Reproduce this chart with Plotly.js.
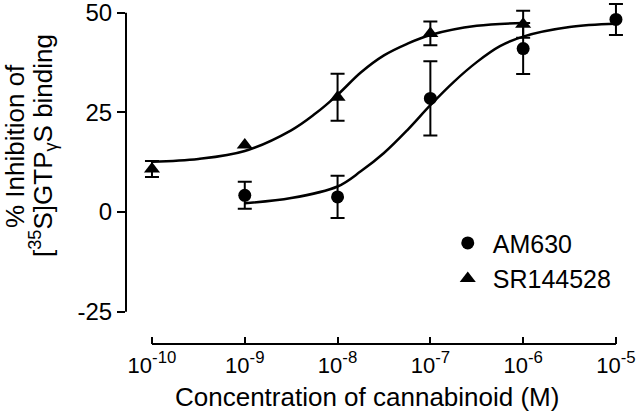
<!DOCTYPE html>
<html>
<head>
<meta charset="utf-8">
<script src="https://cdn.plot.ly/plotly-3.0.1.min.js"></script>
<style>html,body{margin:0;padding:0;background:#fff;}#chart{width:640px;height:415px;}</style>
</head>
<body>
<div id="chart"></div>
<script>
// log10 of concentration (M)
const tickExponents = [-10, -9, -8, -7, -6, -5];
const yTickValues = [-25, 0, 25, 50];
const yTickLabels = ["-25", "0", "25", "50"];

// AM630 measured points
const amLogConc = [-9, -8, -7, -6, -5];
const amMean = [4.2, 3.8, 28.5, 41.0, 48.3];
const amSem = [3.4, 5.3, 9.3, 6.4, 3.9];

// SR144528 measured points
const srLogConc = [-10, -9, -8, -7, -6];
const srMean = [10.8, 16.8, 28.8, 44.8, 47.1];
const srSem = [2.0, NaN, 5.9, 3.0, 3.4];

// fitted curves
const amCurveX = [-9, -8.5, -8, -7.75, -7.5, -7.25, -7, -6.75, -6.5, -6.25, -6, -5.5, -5];
const amCurveY = [2.2, 3.5, 6.4, 10.2, 14.8, 20.5, 26.8, 32.6, 37.6, 41.6, 44.0, 46.4, 47.2];
const srCurveX = [-10, -9.5, -9, -8.5, -8.25, -8, -7.75, -7.5, -7.25, -7, -6.5, -6];
const srCurveY = [12.6, 13.3, 15.3, 20.5, 24.5, 29.4, 35.0, 39.3, 42.2, 44.4, 46.7, 47.4];

const FONT = "Liberation Sans, Arial, Helvetica, sans-serif";

const traces = [
  {x: amCurveX, y: amCurveY, mode: "lines", line: {color: "#000", width: 2.5, shape: "spline", smoothing: 1}, showlegend: false, hoverinfo: "skip"},
  {x: srCurveX, y: srCurveY, mode: "lines", line: {color: "#000", width: 2.5, shape: "spline", smoothing: 1}, showlegend: false, hoverinfo: "skip"},
  {x: amLogConc, y: amMean, name: "AM630", mode: "markers", cliponaxis: false,
   marker: {symbol: "circle", size: 13, color: "#000"},
   error_y: {type: "data", array: amSem, visible: true, color: "#000", thickness: 2, width: 7}},
  {x: srLogConc, y: srMean, name: "SR144528", mode: "markers", cliponaxis: false,
   marker: {symbol: "triangle-up", size: 14, color: "#000"},
   error_y: {type: "data", array: srSem, visible: true, color: "#000", thickness: 2, width: 7}}
];

const layout = {
  width: 640, height: 415,
  margin: {l: 126, r: 8, t: 0, b: 71},
  paper_bgcolor: "#fff", plot_bgcolor: "#fff",
  font: {family: FONT, color: "#000"},
  showlegend: true,
  legend: {x: 0.626, y: 0.36, xanchor: "left", yanchor: "top", font: {family: FONT, size: 25, color: "#000"},
           bgcolor: "rgba(0,0,0,0)", itemwidth: 40},
  xaxis: {
    range: [-10.28, -4.827], showgrid: false, zeroline: false, showline: false,
    tickvals: tickExponents,
    ticktext: tickExponents.map(e => "<span style='font-size:22px'>10</span><sup>" + e + "</sup>"),
    ticks: "inside", ticklen: 7, tickwidth: 2, tickcolor: "#000",
    ticklabelstandoff: 4, ticklabeloverflow: "allow",
    tickfont: {family: FONT, size: 24, color: "#000"}
  },
  yaxis: {
    range: [-33.1, 53.18], showgrid: false, zeroline: false, showline: false,
    tickvals: yTickValues, ticktext: yTickLabels,
    ticks: "outside", ticklen: 8, tickwidth: 2, tickcolor: "#000",
    ticklabeloverflow: "allow",
    tickfont: {family: FONT, size: 24, color: "#000"}
  },
  shapes: [
    {type: "line", xref: "x", yref: "paper", x0: tickExponents[0], x1: tickExponents[tickExponents.length - 1], y0: 0, y1: 0, line: {color: "#000", width: 2}},
    {type: "line", xref: "paper", yref: "y", x0: 0, x1: 0, y0: yTickValues[0], y1: yTickValues[yTickValues.length - 1], line: {color: "#000", width: 2}}
  ],
  annotations: [
    {text: "Concentration of cannabinoid (M)", xref: "paper", yref: "paper", x: 0.476, y: -0.154, xanchor: "center", yanchor: "middle", showarrow: false, font: {family: FONT, size: 26, color: "#000"}},
    {text: "% Inhibition of", xref: "paper", yref: "paper", x: -0.2194, y: 0.5756, xanchor: "center", yanchor: "middle", textangle: -90, showarrow: false, font: {family: FONT, size: 26, color: "#000"}},
    {text: "[<sup>35</sup>S]GTP<sub>γ</sub>S binding", xref: "paper", yref: "paper", x: -0.164, y: 0.5756, xanchor: "center", yanchor: "middle", textangle: -90, showarrow: false, font: {family: FONT, size: 26, color: "#000"}}
  ]
};

Plotly.newPlot("chart", traces, layout, {staticPlot: true, displayModeBar: false});
</script>
</body>
</html>
